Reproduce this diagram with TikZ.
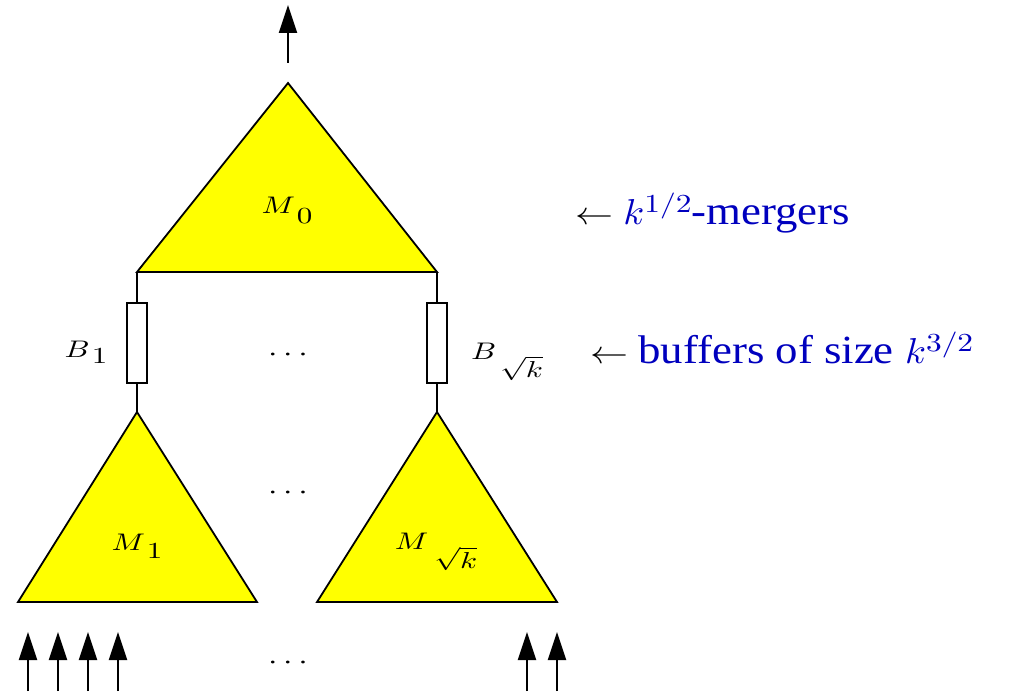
\documentclass[tikz,border=0pt]{standalone}
\usepackage{graphicx}
\usepackage[no-math]{fontspec}
\setmainfont{Liberation Serif}
\usetikzlibrary{arrows.meta}
% all math is set at 10pt and then scaled
\newcommand{\tenmath}[1]{\fontsize{10}{12}\selectfont$#1$}
% main symbol, subscript, gap, drop
\newcommand{\lbl}[4]{\scalebox{1.55}[1.2]{\tenmath{#1}}\hspace{#3}\raisebox{-#4}{\scalebox{1.55}[1.15]{\tenmath{#2}}}}
\newcommand{\supnum}[1]{\raisebox{6pt}{\scalebox{1.4}[1.3]{\tenmath{#1}}}}
\newcommand{\bigk}{\scalebox{1.7}[1.8]{\tenmath{k}}}
\newcommand{\bigarrow}{\scalebox{1.9}[1.6]{\tenmath{\leftarrow}}}
\definecolor{lblblue}{RGB}{0,0,190}
\definecolor{triyellow}{RGB}{255,255,0}
\begin{document}
\begin{tikzpicture}[x=0.5pt,y=-0.5pt,
  tri/.style={fill=triyellow, draw=black, line width=0.9pt, line join=miter},
  bufbox/.style={draw, fill=white, line width=0.9pt, minimum width=10pt, minimum height=40pt, inner sep=0pt},
  wire/.style={line width=0.9pt},
  io/.style={line width=1pt, -{Triangle[length=14pt,width=9pt]}},
  mlabel/.style={inner sep=0pt, font=\fontsize{10}{12}\selectfont},
  dotsl/.style={font=\fontsize{10}{12}\selectfont, inner sep=0pt},
  note/.style={font=\fontsize{20}{24}\selectfont, text=lblblue, anchor=west, inner sep=0pt}]
\useasboundingbox (0,0) rectangle (1015,695);
% top merger
\coordinate (a0) at (288,83);
\coordinate (l0) at (137,272);
\coordinate (r0) at (437,272);
\draw[tri] (a0) -- (r0) -- (l0) -- cycle;
% lower mergers
\coordinate (a1) at (137,412);
\coordinate (l1) at (18,602);
\coordinate (r1) at (257,602);
\draw[tri] (a1) -- (r1) -- (l1) -- cycle;
\coordinate (a2) at (437,412);
\coordinate (l2) at (317,602);
\coordinate (r2) at (557,602);
\draw[tri] (a2) -- (r2) -- (l2) -- cycle;
% buffers
\node[bufbox] (b1) at (137,343) {};
\node[bufbox] (b2) at (437,343) {};
\draw[wire] (l0) -- (b1.north);
\draw[wire] (b1.south) -- (a1);
\draw[wire] (r0) -- (b2.north);
\draw[wire] (b2.south) -- (a2);
% output arrow
\coordinate (outfoot) at (288,63);
\coordinate (outtip) at (288,5);
\draw[io] (outfoot) -- (outtip);
% input arrows
\foreach \i/\x in {1/28,2/58,3/88,4/118,5/527,6/557}{
  \coordinate (in\i foot) at (\x,691);
  \coordinate (in\i tip) at (\x,632);
  \draw[io] (in\i foot) -- (in\i tip);
}
% labels
\node[mlabel] (m0) at (287,210) {\lbl{M}{0}{1pt}{5pt}};
\node[mlabel] (m1) at (137,546) {\lbl{M}{1}{1pt}{4pt}};
\node[mlabel] (m2) at (436,552) {\lbl{M}{\sqrt{k}}{3pt}{9.5pt}};
\node[mlabel] (lb1) at (86,352) {\lbl{B}{1}{1pt}{3pt}};
\node[mlabel] (lb2) at (507,362) {\lbl{B}{\sqrt{k}}{2pt}{9pt}};
\node[dotsl] (d1) at (288,355) {\scalebox{1.7}[1.4]{\tenmath{\cdots}}};
\node[dotsl] (d2) at (288,493) {\scalebox{1.7}[1.4]{\tenmath{\cdots}}};
\node[dotsl] (d3) at (288,663) {\scalebox{1.7}[1.4]{\tenmath{\cdots}}};
\node[note] (n1) at (575,213) {{\color{black}\bigarrow} \scalebox{1.12}[1]{\bigk\supnum{1/2}-mergers}};
\node[note] (n2) at (590,348) {{\color{black}\bigarrow} \scalebox{1.12}[1]{buffers of size \bigk\supnum{3/2}}};
\end{tikzpicture}
\end{document}
